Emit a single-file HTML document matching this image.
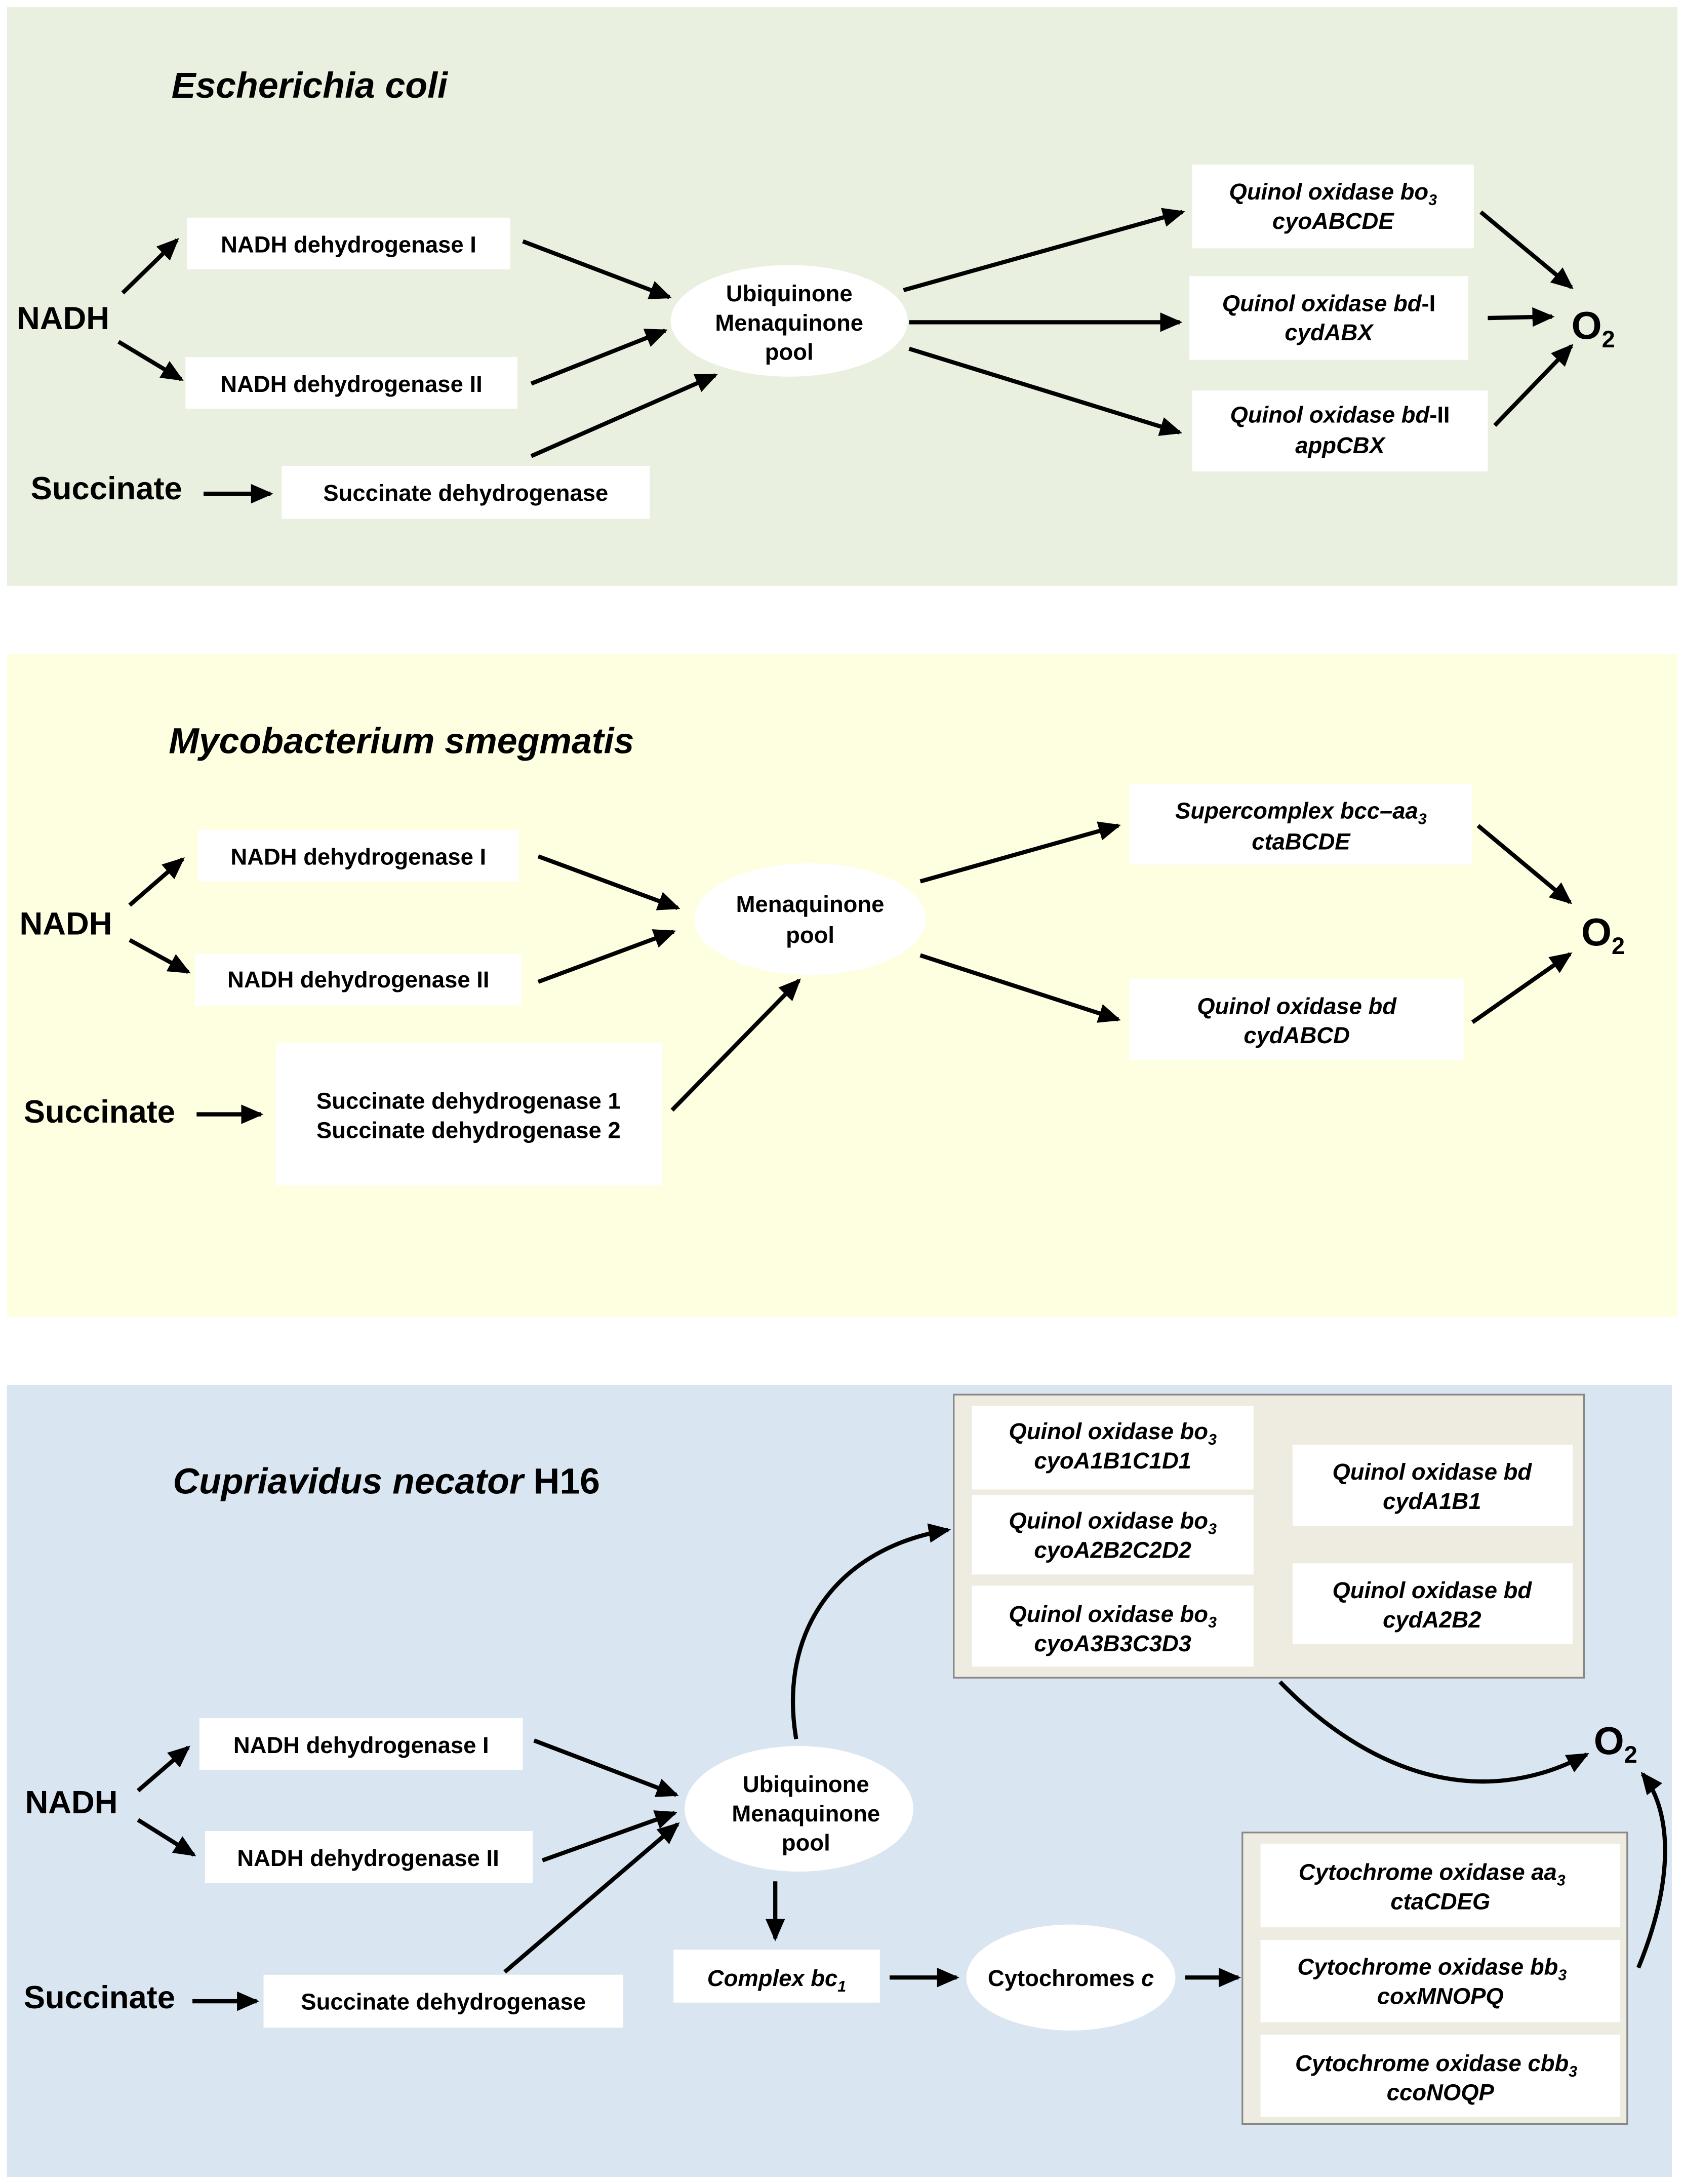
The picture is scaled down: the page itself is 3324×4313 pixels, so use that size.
<!DOCTYPE html>
<html><head><meta charset="utf-8"><style>html,body{margin:0;padding:0;background:#fff}svg{display:block}</style></head>
<body>
<svg width="3324" height="4313" viewBox="0 0 1207 1566" xmlns="http://www.w3.org/2000/svg" font-family="Liberation Sans, Arial, sans-serif" font-weight="bold">
<defs>
<marker id="a" markerUnits="userSpaceOnUse" markerWidth="16" markerHeight="14" refX="14" refY="7" orient="auto">
<path d="M0,0 L16,7 L0,14 Z" fill="#000"/>
</marker>
</defs>
<rect width="1207" height="1566" fill="#fff"/>
<rect x="5" y="5" width="1198" height="415" fill="#e9f0df"/>
<rect x="5" y="469" width="1198" height="475" fill="#fefee0"/>
<rect x="5" y="993" width="1194" height="568" fill="#d9e5f0"/>

<g stroke="#000" stroke-width="3" fill="none" marker-end="url(#a)">
<line x1="88" y1="210" x2="127" y2="172"/>
<line x1="85" y1="245" x2="130" y2="272"/>
<line x1="146" y1="354" x2="194" y2="354"/>
<line x1="375" y1="173" x2="480" y2="213"/>
<line x1="381" y1="275" x2="477" y2="237"/>
<line x1="381" y1="327" x2="513" y2="269"/>
<line x1="648" y1="208" x2="848" y2="152"/>
<line x1="652" y1="231" x2="846" y2="231"/>
<line x1="652" y1="250" x2="846" y2="310"/>
<line x1="1062" y1="152" x2="1127" y2="206"/>
<line x1="1067" y1="228" x2="1113" y2="227"/>
<line x1="1072" y1="305" x2="1127" y2="248"/>
<line x1="93" y1="649" x2="131" y2="616"/>
<line x1="93" y1="674" x2="135" y2="697"/>
<line x1="141" y1="799" x2="187" y2="799"/>
<line x1="386" y1="614" x2="486" y2="651"/>
<line x1="386" y1="704" x2="483" y2="668"/>
<line x1="482" y1="796" x2="573" y2="703"/>
<line x1="660" y1="632" x2="802" y2="592"/>
<line x1="660" y1="685" x2="802" y2="731"/>
<line x1="1060" y1="592" x2="1126" y2="647"/>
<line x1="1056" y1="733" x2="1126" y2="684"/>
<line x1="99" y1="1284" x2="135" y2="1253"/>
<line x1="99" y1="1305" x2="139" y2="1330"/>
<line x1="138" y1="1435" x2="184" y2="1435"/>
<line x1="383" y1="1248" x2="485" y2="1287"/>
<line x1="389" y1="1334" x2="484" y2="1300"/>
<line x1="362" y1="1414" x2="486" y2="1308"/>
<path d="M571,1247 C558,1170 600,1110 680,1097"/>
<line x1="556" y1="1349" x2="556" y2="1390"/>
<line x1="638" y1="1418" x2="686" y2="1418"/>
<line x1="850" y1="1418" x2="888" y2="1418"/>
<path d="M918,1206 C980,1270 1060,1300 1138,1258"/>
<path d="M1175,1411 C1200,1350 1200,1300 1178,1272"/>
</g>

<g fill="#fff">
<rect x="134" y="156" width="232" height="37"/>
<rect x="133" y="256" width="238" height="37"/>
<rect x="202" y="334" width="264" height="38"/>
<ellipse cx="566" cy="230" rx="85" ry="40"/>
<rect x="855" y="118" width="202" height="60"/>
<rect x="853" y="198" width="200" height="60"/>
<rect x="855" y="280" width="212" height="58"/>
<rect x="142" y="595" width="230" height="37"/>
<rect x="140" y="684" width="234" height="37"/>
<rect x="198" y="748" width="277" height="102"/>
<ellipse cx="581" cy="659" rx="83" ry="40"/>
<rect x="810" y="562" width="246" height="58"/>
<rect x="810" y="702" width="240" height="58"/>
<rect x="684" y="1000" width="452" height="203" fill="#eeece1" stroke="#888" stroke-width="1.2"/>
<rect x="697" y="1008" width="202" height="60"/>
<rect x="697" y="1072" width="202" height="57"/>
<rect x="697" y="1137" width="202" height="58"/>
<rect x="927" y="1036" width="201" height="58"/>
<rect x="927" y="1121" width="201" height="58"/>
<rect x="891" y="1314" width="276" height="209" fill="#eeece1" stroke="#888" stroke-width="1.2"/>
<rect x="904" y="1322" width="258" height="60"/>
<rect x="904" y="1391" width="258" height="59"/>
<rect x="904" y="1459" width="258" height="59"/>
<rect x="143" y="1232" width="232" height="37"/>
<rect x="147" y="1313" width="235" height="37"/>
<rect x="189" y="1416" width="258" height="38"/>
<ellipse cx="573" cy="1297" rx="82" ry="45"/>
<rect x="483" y="1398" width="148" height="38"/>
<ellipse cx="768" cy="1418" rx="75" ry="38"/>
</g>

<g fill="#000">
<text x="123" y="70" font-size="26" font-style="italic">Escherichia coli</text>
<text x="121" y="540" font-size="26" font-style="italic">Mycobacterium smegmatis</text>
<text x="124" y="1071" font-size="26"><tspan font-style="italic">Cupriavidus necator</tspan> H16</text>

<g font-size="23">
<text x="12" y="236">NADH</text>
<text x="22" y="358">Succinate</text>
<text x="14" y="670">NADH</text>
<text x="17" y="805">Succinate</text>
<text x="18" y="1300">NADH</text>
<text x="17" y="1440">Succinate</text>
</g>
<g font-size="28">
<text x="1127" y="243">O<tspan font-size="17" dy="6">2</tspan></text>
<text x="1134" y="678">O<tspan font-size="17" dy="6">2</tspan></text>
<text x="1143" y="1258">O<tspan font-size="17" dy="6">2</tspan></text>
</g>

<g font-size="16.5" text-anchor="middle">
<text x="250" y="181">NADH dehydrogenase I</text>
<text x="252" y="281">NADH dehydrogenase II</text>
<text x="334" y="359">Succinate dehydrogenase</text>
<text x="566" y="216">Ubiquinone</text>
<text x="566" y="237">Menaquinone</text>
<text x="566" y="258">pool</text>
<g font-style="italic">
<text x="956" y="143">Quinol oxidase bo<tspan font-size="11" dy="4">3</tspan></text>
<text x="956" y="164">cyoABCDE</text>
<text x="953" y="223">Quinol oxidase bd<tspan font-style="normal">-I</tspan></text>
<text x="953" y="244">cydABX</text>
<text x="961" y="303">Quinol oxidase  bd<tspan font-style="normal">-II</tspan></text>
<text x="961" y="325">appCBX</text>
</g>

<text x="257" y="620">NADH dehydrogenase I</text>
<text x="257" y="708">NADH dehydrogenase II</text>
<text x="336" y="795">Succinate dehydrogenase 1</text>
<text x="336" y="816">Succinate dehydrogenase 2</text>
<text x="581" y="654">Menaquinone</text>
<text x="581" y="676">pool</text>
<g font-style="italic">
<text x="933" y="587">Supercomplex bcc–aa<tspan font-size="11" dy="4">3</tspan></text>
<text x="933" y="609">ctaBCDE</text>
<text x="930" y="727">Quinol oxidase bd</text>
<text x="930" y="748">cydABCD</text>
<text x="798" y="1032">Quinol oxidase bo<tspan font-size="11" dy="4">3</tspan></text>
<text x="798" y="1053">cyoA1B1C1D1</text>
<text x="798" y="1096">Quinol oxidase bo<tspan font-size="11" dy="4">3</tspan></text>
<text x="798" y="1117">cyoA2B2C2D2</text>
<text x="798" y="1163">Quinol oxidase bo<tspan font-size="11" dy="4">3</tspan></text>
<text x="798" y="1184">cyoA3B3C3D3</text>
<text x="1027" y="1061">Quinol oxidase bd</text>
<text x="1027" y="1082">cydA1B1</text>
<text x="1027" y="1146">Quinol oxidase bd</text>
<text x="1027" y="1167">cydA2B2</text>
<text x="1027" y="1348">Cytochrome oxidase aa<tspan font-size="11" dy="4">3</tspan></text>
<text x="1033" y="1369">ctaCDEG</text>
<text x="1027" y="1416">Cytochrome oxidase bb<tspan font-size="11" dy="4">3</tspan></text>
<text x="1033" y="1437">coxMNOPQ</text>
<text x="1030" y="1485">Cytochrome oxidase cbb<tspan font-size="11" dy="4">3</tspan></text>
<text x="1033" y="1506">ccoNOQP</text>
<text x="557" y="1424">Complex bc<tspan font-size="11" dy="4">1</tspan></text>
</g>
<text x="259" y="1257">NADH dehydrogenase I</text>
<text x="264" y="1338">NADH dehydrogenase II</text>
<text x="318" y="1441">Succinate dehydrogenase</text>
<text x="578" y="1285">Ubiquinone</text>
<text x="578" y="1306">Menaquinone</text>
<text x="578" y="1327">pool</text>
<text x="768" y="1424">Cytochromes <tspan font-style="italic">c</tspan></text>
</g>
</g>
</svg>
</body></html>
